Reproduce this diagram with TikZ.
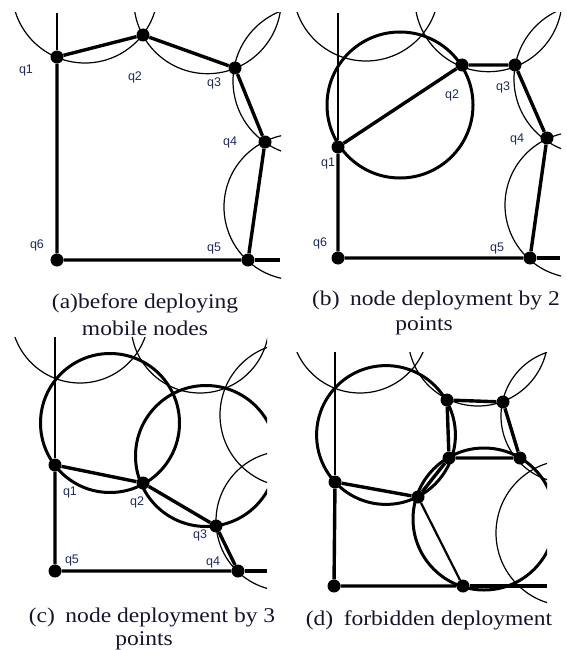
\documentclass[tikz,border=0pt]{standalone}
\usepackage{fontspec}
\setmainfont{Liberation Serif}
\newfontfamily\labfont{Liberation Sans}
\usetikzlibrary{positioning}
\definecolor{labblue}{rgb}{0.12,0.16,0.36}
\definecolor{capink}{rgb}{0.08,0.08,0.18}
\newcommand{\widetext}[1]{\scalebox{1.12}[1]{#1}}

\begin{document}
\begin{tikzpicture}[x=1pt, y=-1pt,
    dotnode/.style={circle, fill=black, inner sep=0pt, minimum size=13pt},
    lab/.style={font=\labfont\fontsize{12.5}{13}\selectfont, text=labblue, inner sep=0pt},
    captext/.style={font=\fontsize{21}{25}\selectfont, text=capink, inner sep=0pt, anchor=base},
    rim/.style={line width=3.4pt},
    wall/.style={line width=2.2pt},
    ring/.style={line width=1.2pt},
    bigring/.style={line width=3pt}
  ]
  \useasboundingbox (0,0) rectangle (567,650);

  % (a) before deploying
  \begin{scope}
    \clip (0,13) rectangle (281,290);
    \draw[ring] (85,-10) circle[radius=73pt];
    \draw[ring] (207.5,0) circle[radius=73.7pt];
    \draw[ring] (308,81) circle[radius=75pt];
    \draw[ring] (297,207) circle[radius=73pt];
  \end{scope}
  \node[dotnode] (a1) at (57,57) {};
  \node[dotnode] (a2) at (143,35) {};
  \node[dotnode] (a3) at (235,68) {};
  \node[dotnode] (a4) at (265,142) {};
  \node[dotnode] (a5) at (248,260) {};
  \node[dotnode] (a6) at (57,260) {};
  \coordinate (a0) at (57,13);
  \coordinate (ae) at (280,260);
  \draw[wall] (a0) -- (a1);
  \draw[rim] (a1) -- (a2) -- (a3) -- (a4) -- (a5) -- (a6) -- (a1);
  \draw[rim] (a5) -- (ae);
  \node[lab] (la1) at (26,70) {q1};
  \node[lab] (la2) at (135,77) {q2};
  \node[lab] (la3) at (214,83) {q3};
  \node[lab] (la4) at (230,142) {q4};
  \node[lab] (la5) at (214,248) {q5};
  \node[lab] (la6) at (37,245) {q6};
  \node[captext] (capa) at (145,308) {\widetext{(a)before deploying}};
  \node[captext] (capa2) at (145,335) {\widetext{mobile nodes}};

  % (b) two points
  \begin{scope}
    \clip (285,13) rectangle (561,290);
    \draw[ring] (366,-12) circle[radius=73pt];
    \draw[ring] (488.5,-2) circle[radius=73.7pt];
    \draw[ring] (589,79) circle[radius=75pt];
    \draw[ring] (578,205) circle[radius=73pt];
    \draw[bigring] (400,105) circle[radius=73pt];
  \end{scope}
  \node[dotnode] (b1) at (338,147) {};
  \node[dotnode] (b2) at (462,65) {};
  \node[dotnode] (b3) at (515,65) {};
  \node[dotnode] (b4) at (547,138) {};
  \node[dotnode] (b5) at (530,258) {};
  \node[dotnode] (b6) at (338,258) {};
  \coordinate (b0) at (338,13);
  \coordinate (be) at (560,258);
  \draw[wall] (b0) -- (b1);
  \draw[rim] (b1) -- (b2) -- (b3) -- (b4) -- (b5) -- (b6) -- (b1);
  \draw[rim] (b5) -- (be);
  \node[lab] (lb1) at (328,163) {q1};
  \node[lab] (lb2) at (452,95) {q2};
  \node[lab] (lb3) at (503,87) {q3};
  \node[lab] (lb4) at (517,139) {q4};
  \node[lab] (lb5) at (497,248) {q5};
  \node[lab] (lb6) at (320,243) {q6};
  \node[captext] (capb) at (436,305) {\widetext{(b)\hspace{0.45em}node deployment by 2}};
  \node[captext] (capb2) at (424,330) {\widetext{points}};

  % (c) three points
  \begin{scope}
    \clip (0,337) rectangle (267,600);
    \draw[ring] (80,314) circle[radius=69pt];
    \draw[ring] (200,324) circle[radius=69pt];
    \draw[ring] (292,415) circle[radius=72pt];
    \draw[ring] (286,521) circle[radius=70pt];
    \draw[bigring] (110,423) circle[radius=69.5pt];
    \draw[bigring] (206,456) circle[radius=70.5pt];
  \end{scope}
  \node[dotnode] (c1) at (55,465) {};
  \node[dotnode] (c2) at (143,483) {};
  \node[dotnode] (c3) at (216,526) {};
  \node[dotnode] (c4) at (238,571) {};
  \node[dotnode] (c5) at (55,571) {};
  \coordinate (c0) at (55,337);
  \coordinate (ce) at (267,571);
  \draw[wall] (c0) -- (c1);
  \draw[rim] (c1) -- (c2) -- (c3) -- (c4) -- (c5) -- (c1);
  \draw[rim] (c4) -- (ce);
  \node[lab] (lc1) at (70,492) {q1};
  \node[lab] (lc2) at (137,502) {q2};
  \node[lab] (lc3) at (200,535) {q3};
  \node[lab] (lc4) at (213,562) {q4};
  \node[lab] (lc5) at (72,560) {q5};
  \node[captext] (capc) at (152,622) {\widetext{(c)\hspace{0.45em}node deployment by 3}};
  \node[captext] (capc2) at (144,645) {\widetext{points}};

  % (d) forbidden
  \begin{scope}
    \clip (285,352) rectangle (547,605);
    \draw[ring] (360,324) circle[radius=69pt];
    \draw[ring] (478,336) circle[radius=70pt];
    \draw[ring] (568,416) circle[radius=67pt];
    \draw[ring] (569,533) circle[radius=73pt];
    \draw[bigring] (386,435) circle[radius=69.4pt];
    \draw[bigring] (484,519) circle[radius=71pt];
  \end{scope}
  \node[dotnode] (d1) at (335,482) {};
  \node[dotnode] (d2) at (418,497) {};
  \node[dotnode] (d3) at (449,458) {};
  \node[dotnode] (d4) at (447,400) {};
  \node[dotnode] (d5) at (503,402) {};
  \node[dotnode] (d6) at (520,458) {};
  \node[dotnode] (d7) at (463,586) {};
  \node[dotnode] (d8) at (334,586) {};
  \coordinate (d0) at (335,352);
  \coordinate (de) at (547,586);
  \draw[wall] (d0) -- (d1);
  \draw[rim] (d1) -- (d2) -- (d3) -- (d4) -- (d5) -- (d6) -- (d3);
  \draw[wall] (d2) -- (d7);
  \draw[rim] (d7) -- (d8) -- (d1);
  \draw[rim] (d7) -- (de);
  \node[captext] (capd) at (429,625) {\widetext{(d)\hspace{0.45em}forbidden deployment}};
\end{tikzpicture}
\end{document}
